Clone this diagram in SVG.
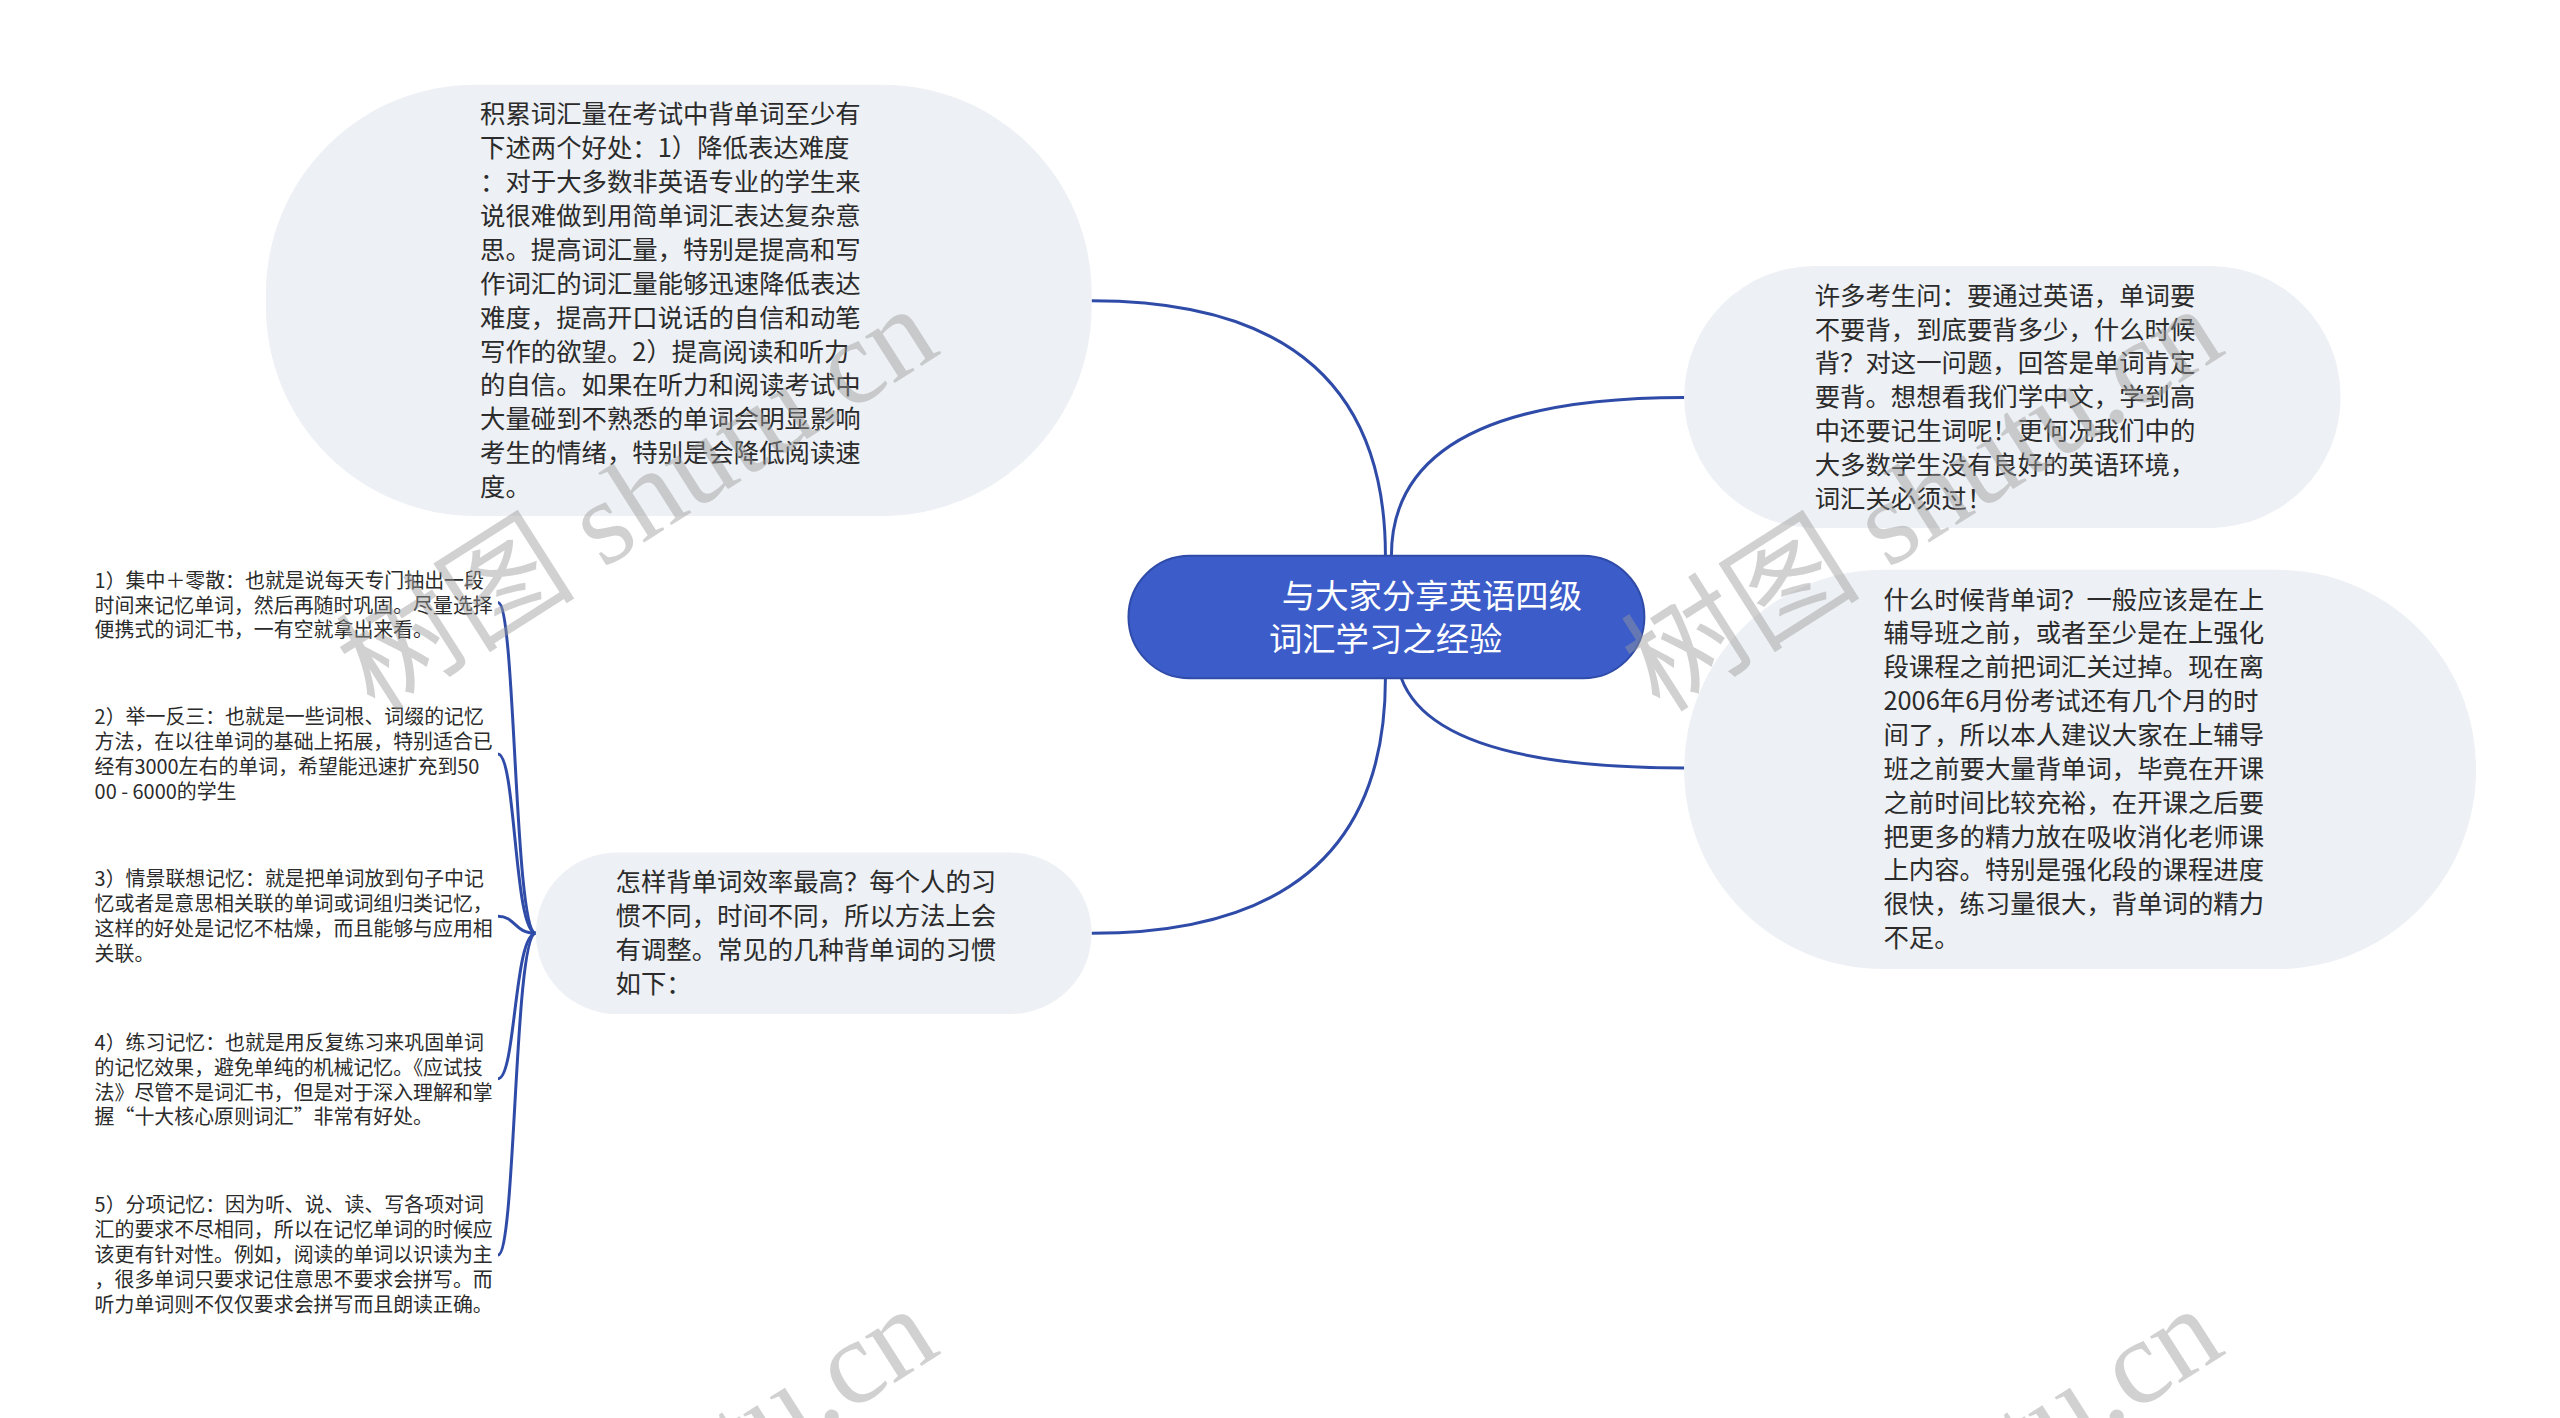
<svg xmlns="http://www.w3.org/2000/svg" width="2560" height="1418" viewBox="0 0 2560 1418">
<style>
.bub{fill:#edf0f4}
.t{font-family:"Noto Sans CJK SC","Liberation Sans",sans-serif;font-size:25.5px;fill:#2b2b2b}
.leaf{font-family:"Noto Sans CJK SC","Liberation Sans",sans-serif;font-size:20px;fill:#2b2b2b}
.root{font-family:"Noto Sans CJK SC","Liberation Sans",sans-serif;font-size:33.5px;fill:#ffffff}
.c{fill:none;stroke:#2f4ba8;stroke-width:3}
.wm{font-size:120px;fill:#9a9a9a;opacity:0.45}
.wmc{font-family:"Noto Sans CJK SC",sans-serif}
.wms{font-family:"Liberation Serif",serif}
</style>
<rect width="2560" height="1418" fill="#ffffff"/>
<g transform="scale(0.996)">
<g id="connectors">
<path class="c" d="M1096 302 Q1391 302 1391 558"/>
<path class="c" d="M1397 558 Q1397 399 1691 399"/>
<path class="c" d="M1407 681 Q1440 771 1691 771"/>
<path class="c" d="M1391 681 Q1391 937 1096 937"/>
<path class="c" d="M538 937 C516 937 518 605 500 605"/>
<path class="c" d="M538 937 C516 937 518 757 500 757"/>
<path class="c" d="M538 937 C516 937 518 920 500 920"/>
<path class="c" d="M538 937 C516 937 518 1083 500 1083"/>
<path class="c" d="M538 937 C516 937 518 1260 500 1260"/>
</g>
<g id="root">
<rect x="1133" y="558" width="518" height="123" rx="61.5" fill="#3b5cc9" stroke="#2f4ba8" stroke-width="2"/>
<text class="root"><tspan x="1287" y="610">与大家分享英语四级</tspan><tspan x="1274" y="654">词汇学习之经验</tspan></text>
</g>
<g id="node-topleft">
<rect class="bub" x="267" y="85" width="829" height="433" rx="210"/>
<text class="t" x="482" y="124"><tspan x="482">积累词汇量在考试中背单词至少有</tspan><tspan x="482" dy="34">下述两个好处：1）降低表达难度</tspan><tspan x="482" dy="34">：对于大多数非英语专业的学生来</tspan><tspan x="482" dy="34">说很难做到用简单词汇表达复杂意</tspan><tspan x="482" dy="34">思。提高词汇量，特别是提高和写</tspan><tspan x="482" dy="34">作词汇的词汇量能够迅速降低表达</tspan><tspan x="482" dy="34">难度，提高开口说话的自信和动笔</tspan><tspan x="482" dy="34">写作的欲望。2）提高阅读和听力</tspan><tspan x="482" dy="34">的自信。如果在听力和阅读考试中</tspan><tspan x="482" dy="34">大量碰到不熟悉的单词会明显影响</tspan><tspan x="482" dy="34">考生的情绪，特别是会降低阅读速</tspan><tspan x="482" dy="34">度。</tspan></text>
</g>
<g id="node-righttop">
<rect class="bub" x="1691" y="267" width="659" height="263" rx="131"/>
<text class="t" x="1822" y="306"><tspan x="1822">许多考生问：要通过英语，单词要</tspan><tspan x="1822" dy="34">不要背，到底要背多少，什么时候</tspan><tspan x="1822" dy="34">背？对这一问题，回答是单词肯定</tspan><tspan x="1822" dy="34">要背。想想看我们学中文，学到高</tspan><tspan x="1822" dy="34">中还要记生词呢！更何况我们中的</tspan><tspan x="1822" dy="34">大多数学生没有良好的英语环境，</tspan><tspan x="1822" dy="34">词汇关必须过！</tspan></text>
</g>
<g id="node-rightbottom">
<rect class="bub" x="1691" y="572" width="795" height="401" rx="200"/>
<text class="t" x="1891" y="611"><tspan x="1891">什么时候背单词？一般应该是在上</tspan><tspan x="1891" dy="34">辅导班之前，或者至少是在上强化</tspan><tspan x="1891" dy="34">段课程之前把词汇关过掉。现在离</tspan><tspan x="1891" dy="34">2006年6月份考试还有几个月的时</tspan><tspan x="1891" dy="34">间了，所以本人建议大家在上辅导</tspan><tspan x="1891" dy="34">班之前要大量背单词，毕竟在开课</tspan><tspan x="1891" dy="34">之前时间比较充裕，在开课之后要</tspan><tspan x="1891" dy="34">把更多的精力放在吸收消化老师课</tspan><tspan x="1891" dy="34">上内容。特别是强化段的课程进度</tspan><tspan x="1891" dy="34">很快，练习量很大，背单词的精力</tspan><tspan x="1891" dy="34">不足。</tspan></text>
</g>
<g id="node-bottom">
<rect class="bub" x="538" y="856" width="558" height="162" rx="81"/>
<text class="t" x="618" y="895"><tspan x="618">怎样背单词效率最高？每个人的习</tspan><tspan x="618" dy="34">惯不同，时间不同，所以方法上会</tspan><tspan x="618" dy="34">有调整。常见的几种背单词的习惯</tspan><tspan x="618" dy="34">如下：</tspan></text>
</g>
<g id="leaf-1">
<text class="leaf" x="95" y="590"><tspan x="95">1）集中＋零散：也就是说每天专门抽出一段</tspan><tspan x="95" dy="25">时间来记忆单词，然后再随时巩固。尽量选择</tspan><tspan x="95" dy="25">便携式的词汇书，一有空就拿出来看。</tspan></text>
</g>
<g id="leaf-2">
<text class="leaf" x="95" y="727"><tspan x="95">2）举一反三：也就是一些词根、词缀的记忆</tspan><tspan x="95" dy="25">方法，在以往单词的基础上拓展，特别适合已</tspan><tspan x="95" dy="25">经有3000左右的单词，希望能迅速扩充到50</tspan><tspan x="95" dy="25">00 - 6000的学生</tspan></text>
</g>
<g id="leaf-3">
<text class="leaf" x="95" y="890"><tspan x="95">3）情景联想记忆：就是把单词放到句子中记</tspan><tspan x="95" dy="25">忆或者是意思相关联的单词或词组归类记忆，</tspan><tspan x="95" dy="25">这样的好处是记忆不枯燥，而且能够与应用相</tspan><tspan x="95" dy="25">关联。</tspan></text>
</g>
<g id="leaf-4">
<text class="leaf" x="95" y="1054"><tspan x="95">4）练习记忆：也就是用反复练习来巩固单词</tspan><tspan x="95" dy="25">的记忆效果，避免单纯的机械记忆。《应试技</tspan><tspan x="95" dy="25">法》尽管不是词汇书，但是对于深入理解和掌</tspan><tspan x="95" dy="25">握“十大核心原则词汇”非常有好处。</tspan></text>
</g>
<g id="leaf-5">
<text class="leaf" x="95" y="1217"><tspan x="95">5）分项记忆：因为听、说、读、写各项对词</tspan><tspan x="95" dy="25">汇的要求不尽相同，所以在记忆单词的时候应</tspan><tspan x="95" dy="25">该更有针对性。例如，阅读的单词以识读为主</tspan><tspan x="95" dy="25">，很多单词只要求记住意思不要求会拼写。而</tspan><tspan x="95" dy="25">听力单词则不仅仅要求会拼写而且朗读正确。</tspan></text>
</g>
</g>
<g id="watermarks">
<text class="wm" transform="translate(375 714) rotate(-32.5)"><tspan class="wmc">树图</tspan><tspan class="wms"> shutu.cn</tspan></text>
<text class="wm" transform="translate(1660 714) rotate(-32.5)"><tspan class="wmc">树图</tspan><tspan class="wms"> shutu.cn</tspan></text>
<text class="wm" transform="translate(375 1714) rotate(-32.5)"><tspan class="wmc">树图</tspan><tspan class="wms"> shutu.cn</tspan></text>
<text class="wm" transform="translate(1660 1714) rotate(-32.5)"><tspan class="wmc">树图</tspan><tspan class="wms"> shutu.cn</tspan></text>
</g>
</svg>
